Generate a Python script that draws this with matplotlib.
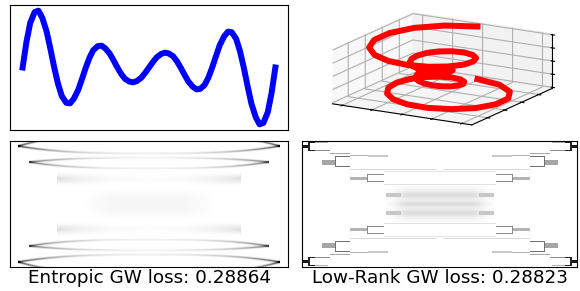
import matplotlib
matplotlib.use('Agg')
import matplotlib.pyplot as plt
import numpy as np

# source curve (2D) and target helix (3D)
curve_z = [-2.0, -1.94, -1.88, -1.81, -1.75, -1.69, -1.62, -1.56, -1.5, -1.44, -1.38, -1.31, -1.25, -1.19, -1.12, -1.06,
           -1.0, -0.94, -0.88, -0.81, -0.75, -0.69, -0.62, -0.56, -0.5, -0.44, -0.38, -0.31, -0.25, -0.19, -0.12, -0.06,
           0.0, 0.06, 0.12, 0.19, 0.25, 0.31, 0.38, 0.44, 0.5, 0.56, 0.62, 0.69, 0.75, 0.81, 0.88, 0.94,
           1.0, 1.06, 1.12, 1.19, 1.25, 1.31, 1.38, 1.44, 1.5, 1.56, 1.62, 1.69, 1.75, 1.81, 1.88, 1.94, 2.0]
curve_x = [0.0, 1.82, 3.19, 3.96, 4.06, 3.56, 2.57, 1.32, 0.0, -1.17, -2.04, -2.52, -2.56, -2.23, -1.60, -0.81,
           0.0, 0.72, 1.25, 1.53, 1.56, 1.36, 0.98, 0.50, 0.0, -0.46, -0.81, -1.01, -1.06, -0.96, -0.72, -0.38,
           0.0, 0.38, 0.72, 0.96, 1.06, 1.01, 0.81, 0.46, 0.0, -0.50, -0.98, -1.36, -1.56, -1.53, -1.25, -0.72,
           0.0, 0.81, 1.60, 2.23, 2.56, 2.52, 2.04, 1.17, 0.0, -1.32, -2.57, -3.56, -4.06, -3.96, -3.19, -1.82, 0.0]
helix_y = [5.0, 4.39, 3.19, 1.64, 0.0, -1.47, -2.57, -3.18, -3.25, -2.83, -2.04, -1.04, 0.0, 0.92, 1.60, 1.97,
           2.0, 1.74, 1.25, 0.64, 0.0, -0.56, -0.98, -1.22, -1.25, -1.10, -0.81, -0.42, 0.0, 0.40, 0.72, 0.93,
           1.0, 0.93, 0.72, 0.40, 0.0, -0.42, -0.81, -1.10, -1.25, -1.22, -0.98, -0.56, 0.0, 0.64, 1.25, 1.74,
           2.0, 1.97, 1.60, 0.92, 0.0, -1.04, -2.04, -2.83, -3.25, -3.18, -2.57, -1.47, 0.0, 1.64, 3.19, 4.39, 5.0]

# entropic plan: arc bands in the folded top-left quarter (u = column, v = row, both 0..0.5)
ent_u = [0.03, 0.07, 0.17]
ent_v = [0.04, 0.167, 0.30]
ent_rise = [0.098, 0.034, 0.012]
ent_drop = [0.058, 0.05, 0.018]
ent_shade = [0.62, 0.48, 0.06]
ent_width = [0.006, 0.006, 0.024]
ent_haze = [0.25, 0.36, 0.035]   # u start, v start, shade

# low-rank plan: blocks in the folded top-left quarter
lr_u0 = [0.000, 0.023, 0.023, 0.022, 0.048, 0.048, 0.100, 0.175, 0.240, 0.074, 0.121, 0.121, 0.118,
         0.175, 0.173, 0.237, 0.237, 0.234, 0.297, 0.297, 0.303]
lr_u1 = [0.023, 0.048, 0.048, 0.028, 0.095, 0.100, 0.175, 0.240, 0.310, 0.121, 0.175, 0.175, 0.124,
         0.490, 0.238, 0.297, 0.297, 0.240, 0.500, 0.500, 0.357]
lr_v0 = [0.032, 0.006, 0.068, 0.006, 0.006, 0.072, 0.094, 0.112, 0.108, 0.151, 0.121, 0.200, 0.121,
         0.221, 0.286, 0.261, 0.320, 0.261, 0.235, 0.341, 0.414]
lr_v1 = [0.056, 0.014, 0.076, 0.076, 0.014, 0.080, 0.102, 0.120, 0.126, 0.191, 0.129, 0.208, 0.208,
         0.229, 0.310, 0.269, 0.328, 0.328, 0.243, 0.349, 0.446]
lr_shade = [0.90, 0.85, 0.85, 0.85, 0.30, 0.45, 0.35, 0.30, 0.22, 0.35, 0.55, 0.55, 0.55,
            0.15, 0.30, 0.45, 0.45, 0.45, 0.12, 0.12, 0.22]
lr_haze = [0.30, 0.34, 0.07]    # u start, v start, shade
lr_haze_rows = [0.43, 0.50]

losses = {'Entropic': 0.28864, 'Low-Rank': 0.28823}

n_rows, n_cols = 126, 276
u = (np.arange(n_cols) + 0.5) / n_cols
v = (np.arange(n_rows) + 0.5) / n_rows
U, V = np.meshgrid(np.minimum(u, 1 - u), np.minimum(v, 1 - v))


def entropic_plan():
    P = np.zeros_like(U)
    for u0, v0, rise, drop, shade, w in zip(ent_u, ent_v, ent_rise, ent_drop, ent_shade, ent_width):
        s = np.clip((U - u0) / (0.5 - u0), 0, 1)
        g = 1 - (1 - s) ** 3
        fade = shade * (0.12 + 0.88 * (1 - s) ** 2.5) * (U >= u0)
        for arc in (v0 - rise * g, v0 + drop * g):
            P += fade * np.exp(-0.5 * ((V - arc) / w) ** 2)
    hu, hv, hs = ent_haze
    P += hs * np.clip((U - hu) / 0.12, 0, 1) * np.clip((V - hv) / 0.1, 0, 1)
    return P


def lowrank_plan():
    P = np.zeros_like(U)
    for a, b, c, d, s in zip(lr_u0, lr_u1, lr_v0, lr_v1, lr_shade):
        inside = (U >= a) & (U < b) & (V >= c) & (V < d)
        P = np.maximum(P, s * inside)
    hu, hv, hs = lr_haze
    box = np.clip((U - hu) / 0.08, 0, 1) * np.clip((V - hv) / 0.06, 0, 1)
    rows = sum(np.exp(-0.5 * ((V - r) / 0.014) ** 2) for r in lr_haze_rows)
    P = np.maximum(P, box * (hs + 0.07 * rows))
    return P


fig = plt.figure(figsize=(5.8, 2.91), dpi=100)
W, H = 580.0, 291.0


def rect(x0, y0, x1, y1):
    return [x0 / W, 1 - y1 / H, (x1 - x0) / W, (y1 - y0) / H]


ax1 = fig.add_axes(rect(10, 5, 288, 130))
ax1.plot(curve_z, curve_x, color='blue', linewidth=4.3)
ax1.set_xticks([])
ax1.set_yticks([])

ax2 = fig.add_axes(rect(314, 5, 564, 136), projection='3d')
ax2.apply_aspect = lambda position=None: None   # let the 3D box stretch over the whole panel
ax2.set_proj_type('ortho')
ax2.plot(curve_x, helix_y, curve_z, color='red', linewidth=4.3)
ax2.set_xticklabels([])
ax2.set_yticklabels([])
ax2.set_zticklabels([])

ax3 = fig.add_axes(rect(10, 141, 288, 266.7))
ax3.imshow(entropic_plan(), cmap='gray_r', vmin=0, vmax=1, aspect='auto', interpolation='nearest')
ax3.set_xticks([])
ax3.set_yticks([])

ax4 = fig.add_axes(rect(301.7, 141, 577, 266.7))
ax4.imshow(lowrank_plan(), cmap='gray_r', vmin=0, vmax=1, aspect='auto', interpolation='nearest')
ax4.set_xticks([])
ax4.set_yticks([])

fig.text(149.5 / W, 1 - 283.4 / H, f'Entropic GW loss: {losses["Entropic"]:.5f}',
         ha='center', va='baseline', fontsize=13.2)
fig.text(439.5 / W, 1 - 283.4 / H, f'Low-Rank GW loss: {losses["Low-Rank"]:.5f}',
         ha='center', va='baseline', fontsize=13.2)

fig.savefig('out.png', dpi=100)
